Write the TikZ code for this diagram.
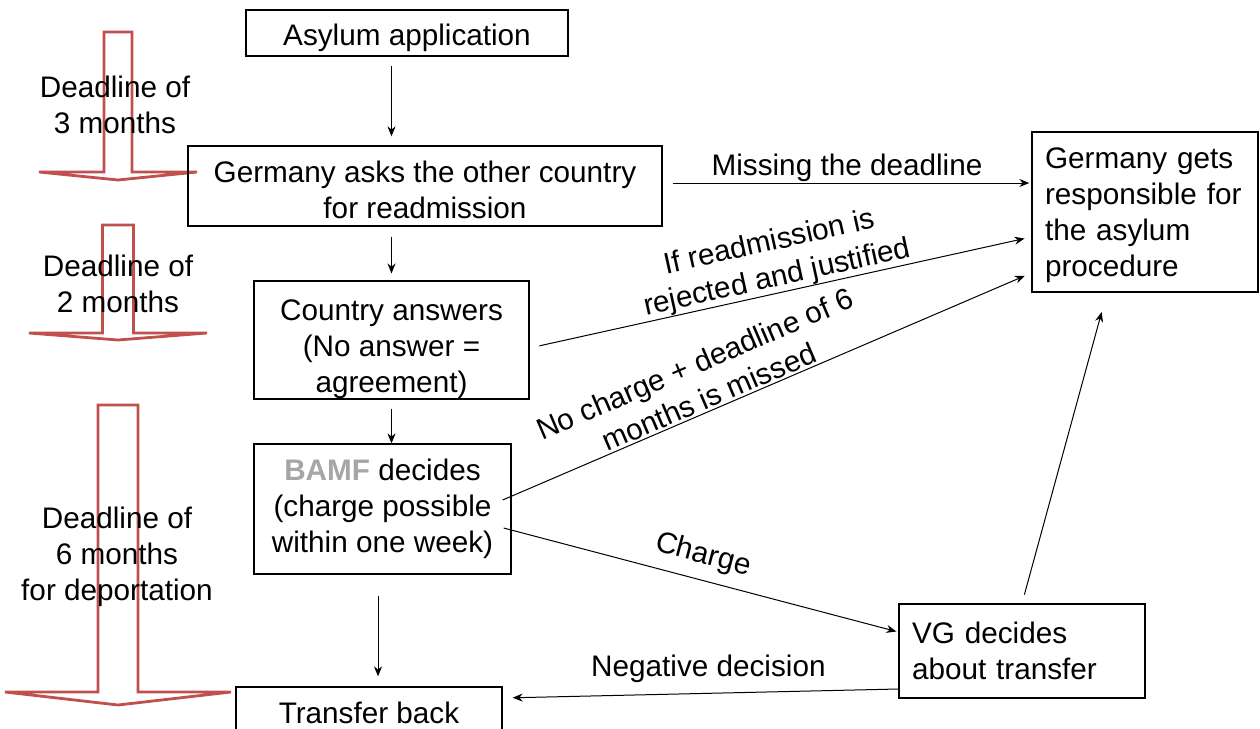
\documentclass[tikz,border=0pt]{standalone}
\usepackage{fontspec}
\setmainfont{Liberation Sans}
\usepackage{xcolor}
\usepackage{tikz}
\usetikzlibrary{arrows.meta}
\definecolor{DeadlineRed}{RGB}{192,80,77}
\definecolor{BamfGrey}{RGB}{166,166,166}
\tikzset{
  stepbox/.style={draw,line width=0.65pt,inner sep=0pt,align=center},
  notebox/.style={draw,line width=0.65pt,inner xsep=6.5pt,inner ysep=0pt,align=left},
  conn/.style={-{Stealth[length=5pt,width=4pt]},line width=0.5pt},
  edgelabel/.style={inner sep=0pt,align=center},
  deadline/.style={draw=DeadlineRed,line width=1.4pt}
}

\begin{document}
\begin{tikzpicture}[x=0.5pt,y=-0.5pt,font=\fontsize{14.85pt}{18pt}\selectfont]
  \useasboundingbox (0,0) rectangle (1260,729);

  % deadline arrows on the left
  \foreach \ytop/\ybase/\sw/\hw/\tip in {32/172/14/79/8, 225/333/15.5/89/7, 405/692/20/113/13}
    \draw[deadline] (118-\sw,\ybase) -- (118-\sw,\ytop) -- (118+\sw,\ytop) -- (118+\sw,\ybase)
      -- (118+\hw,\ybase) -- (118,\ybase+\tip) -- (118-\hw,\ybase) -- cycle;

  \node[edgelabel] (dl3) at (115,105) {Deadline of\\3 months};
  \node[edgelabel] (dl2) at (118,284) {Deadline of\\2 months};
  \node[edgelabel] (dl6) at (117,557) {Deadline of\\6 months\\for deportation};

  % steps (the rules push the text down a little)
  \node[stepbox,minimum width=161pt,minimum height=23pt] (app) at (407,33)
    {\rule{0pt}{15.8pt}Asylum application};
  \node[stepbox,minimum width=237pt,minimum height=40pt] (ask) at (425,186)
    {\rule{0pt}{14.8pt}Germany asks the other country\\for readmission};
  \node[stepbox,minimum width=137.5pt,minimum height=56pt] (answer) at (391.5,340)
    {\rule{0pt}{19.8pt}Country answers\\(No answer =\\agreement)};
  \node[stepbox,minimum width=128.5pt,minimum height=65pt] (bamf) at (382.5,509)
    {\textcolor{BamfGrey}{\textbf{BAMF}} decides\\(charge possible\\within one week)};
  \node[stepbox,minimum width=133pt,minimum height=26pt] (transfer) at (369,713) {Transfer back};
  \node[notebox,text width=100pt,minimum height=80pt] (resp) at (1145,212)
    {\rule{0pt}{13.8pt}Germany gets\\responsible for\\the asylum\\procedure};
  \node[notebox,text width=110pt,minimum height=47pt] (vg) at (1022,651)
    {VG decides\\about transfer};

  % main line
  \draw[conn,shorten <=4.5pt,shorten >=4.5pt] (app.south -| answer.north) -- (ask.north -| answer.north);
  \draw[conn,shorten <=5pt,shorten >=3.5pt] (ask.south -| answer.north) -- (answer.north);
  \draw[conn,shorten <=4.5pt] (answer.south) -- (answer.south |- bamf.north);
  \draw[conn,shorten <=10.5pt,shorten >=5pt] ([xshift=-2.25pt]bamf.south) -- ([xshift=-2.25pt]bamf.south |- transfer.north);

  % to Germany responsible
  \draw[conn,shorten <=5pt,shorten >=1pt] ([yshift=1.5pt]ask.east) -- ([yshift=1.5pt]ask.east -| resp.west)
    node[edgelabel,midway,above=0.5pt] (missing) {Missing the deadline};
  \draw[conn,shorten <=5pt,shorten >=3.5pt] ([yshift=-4pt]answer.east) -- ([yshift=-12.5pt]resp.west)
    node[edgelabel,pos=0.5,sloped,above] (rejected) {If readmission is\\rejected and justified};
  \draw[conn,shorten >=3.5pt] ([xshift=-4.5pt,yshift=4.5pt]bamf.east) -- ([yshift=-30.5pt]resp.west)
    node[edgelabel,pos=0.4,sloped,above=1pt] (nocharge) {No charge + deadline of 6\\months is missed};
  \draw[conn,shorten <=4.5pt,shorten >=10pt] (vg.north) -- ([xshift=-19pt]resp.south);

  % court
  \draw[conn,shorten >=1pt] ([xshift=-4pt,yshift=-9.5pt]bamf.east) -- ([yshift=9.5pt]vg.west)
    node[edgelabel,pos=0.49,sloped,above=5pt] (charge) {Charge};
  \draw[conn,shorten >=5pt] ([yshift=-19pt]vg.west) -- ([yshift=7.5pt]transfer.east)
    node[edgelabel,pos=0.48,above=5pt] (negative) {Negative decision};
\end{tikzpicture}
\end{document}
